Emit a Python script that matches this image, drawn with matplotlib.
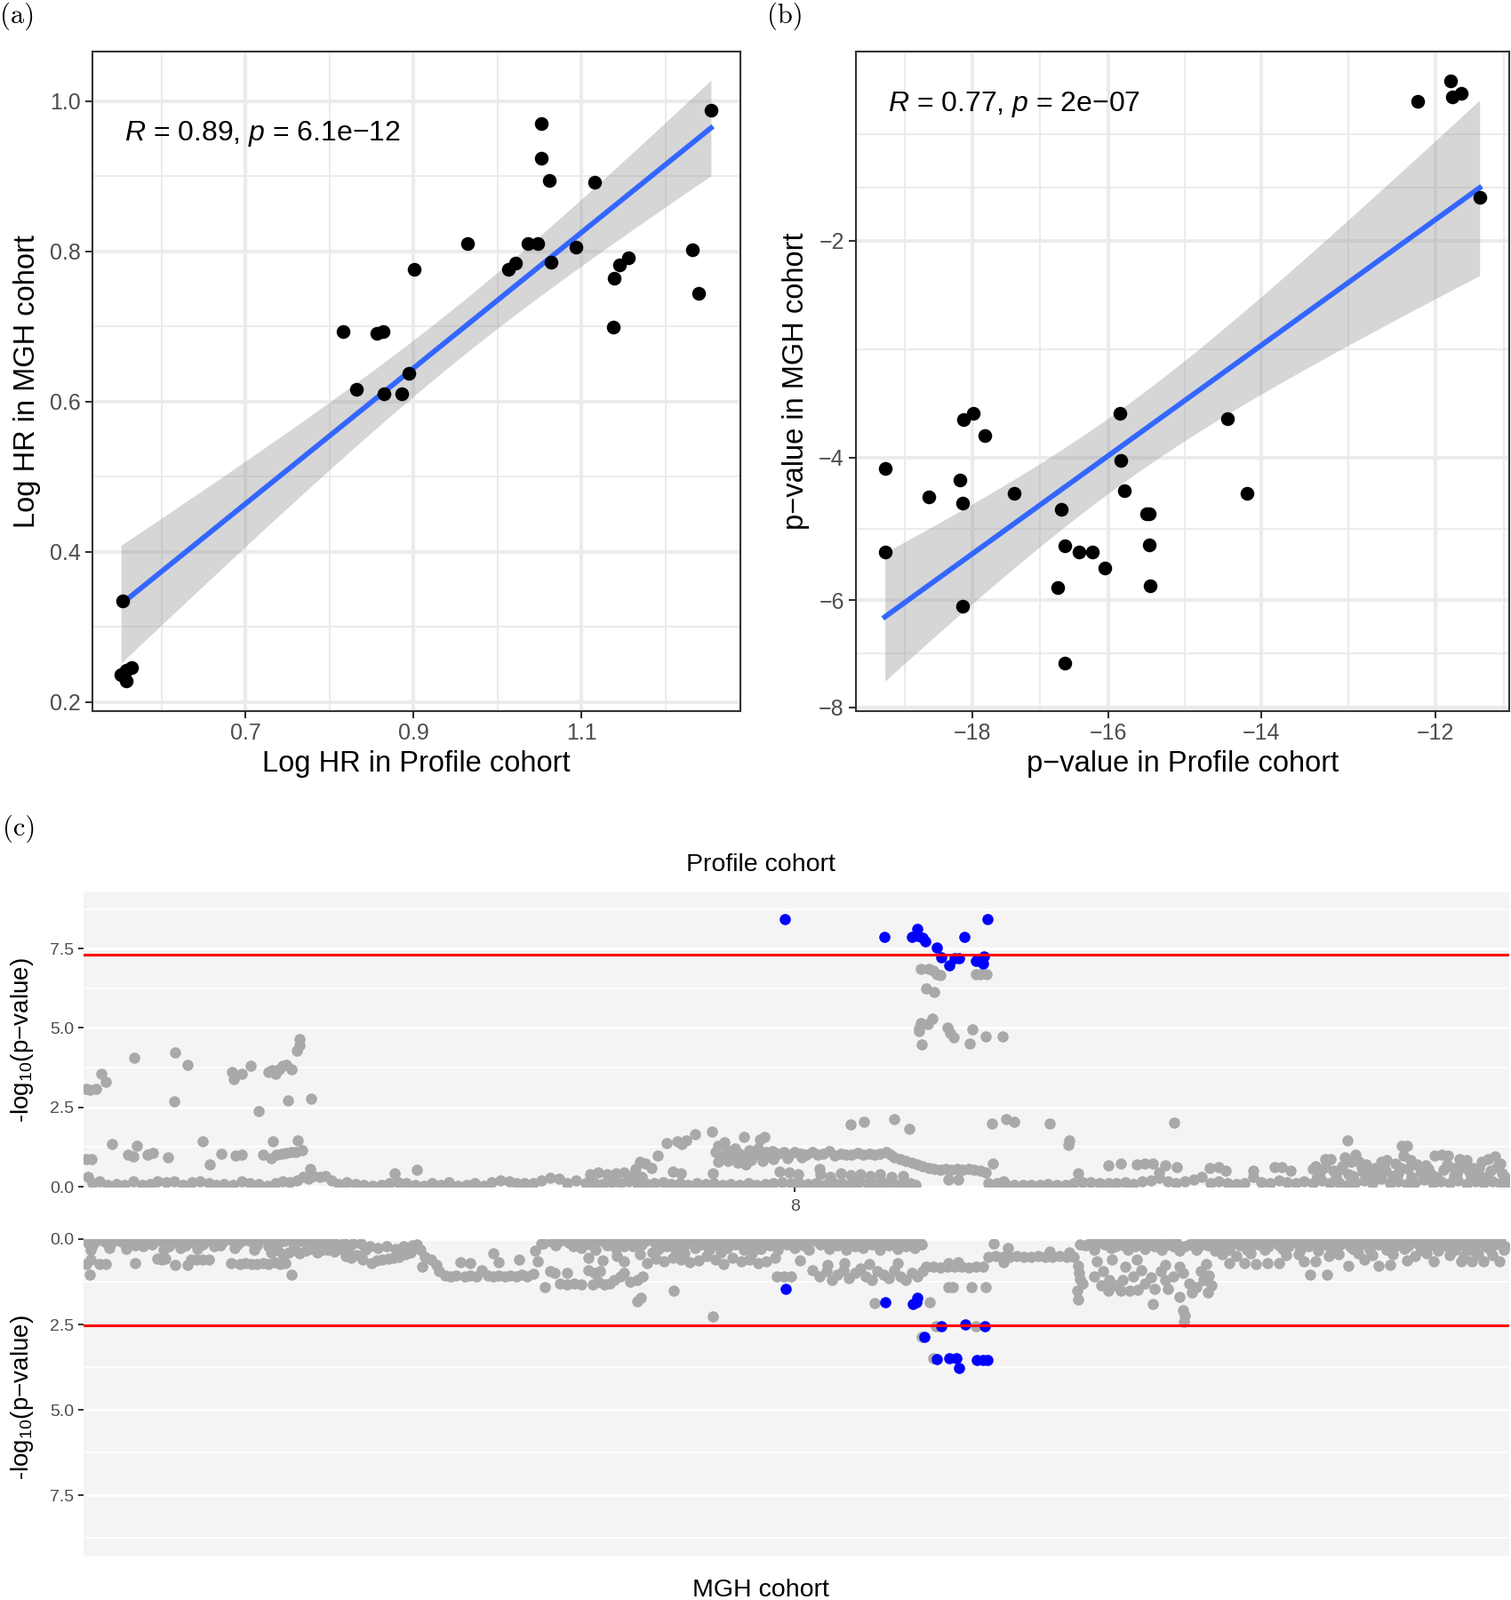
import numpy as np
import matplotlib
matplotlib.use("Agg")
import matplotlib.pyplot as plt

plt.rcParams['font.family'] = ['Liberation Sans', 'DejaVu Sans']
plt.rcParams['mathtext.fontset'] = 'custom'
plt.rcParams['mathtext.rm'] = 'Liberation Sans'
plt.rcParams['mathtext.it'] = 'Liberation Sans:italic'

# ---- (a) log hazard ratios, profile vs MGH
hr_profile = [1.254, 1.052, 1.052, 1.062, 1.116, 0.964, 1.036, 1.048, 1.093, 1.232,
              0.901, 1.013, 1.021, 1.064, 1.156, 1.145, 1.139, 1.239, 1.138, 0.816,
              0.856, 0.864, 0.832, 0.894, 0.865, 0.886, 0.554, 0.552, 0.558, 0.565, 0.558]
hr_mgh = [0.988, 0.970, 0.924, 0.895, 0.892, 0.810, 0.810, 0.810, 0.806, 0.802,
          0.776, 0.776, 0.784, 0.786, 0.792, 0.782, 0.764, 0.744, 0.699, 0.693,
          0.691, 0.693, 0.616, 0.638, 0.610, 0.610, 0.335, 0.237, 0.243, 0.246, 0.228]

# ---- (b) log10 p-values, profile vs MGH
p_profile = [-11.84, -12.19, -11.82, -11.73, -11.54, -19.40, -19.41, -18.69, -18.14, -17.98,
             -17.81, -18.19, -18.15, -18.15, -17.36, -16.67, -16.62, -16.41, -16.22, -16.05,
             -16.72, -16.62, -15.84, -15.83, -15.78, -15.47, -15.44, -15.44, -15.43, -14.42, -14.17]
p_mgh = [-1.06, -1.16, -1.14, -1.12, -1.71, -4.13, -5.25, -4.48, -3.57, -3.51,
         -3.75, -4.27, -4.57, -6.09, -4.44, -4.65, -5.15, -5.24, -5.25, -5.49,
         -5.79, -7.12, -3.51, -4.03, -4.41, -4.71, -4.71, -5.14, -5.77, -3.56, -4.44]

# ---- (c) chr8 -log10(p), position as % of the region shown
top_lead = [(49.28, 8.42), (56.28, 7.87), (58.19, 7.87), (58.60, 8.12), (58.64, 7.89),
            (58.98, 7.84), (59.14, 7.72), (60.00, 7.53), (60.30, 7.22), (60.84, 6.97),
            (61.25, 7.20), (61.54, 7.20), (61.93, 7.87), (62.72, 7.11), (62.99, 7.11),
            (63.29, 7.25), (63.24, 7.02), (63.51, 8.42)]
top_scatter = [(58.87, 6.87), (59.43, 6.87), (59.73, 6.81), (60.00, 6.69), (60.23, 6.67),
               (62.72, 6.69), (63.06, 6.69), (63.47, 6.70), (59.21, 6.25), (59.77, 6.14),
               (58.71, 4.99), (58.87, 5.15), (59.37, 5.13), (59.66, 5.30), (58.75, 4.90),
               (58.93, 4.48), (60.73, 5.01), (60.91, 4.85), (61.18, 4.71), (62.31, 4.50),
               (62.49, 4.97), (63.40, 4.73), (64.60, 4.73),
               (0.20, 3.08), (0.45, 3.06), (0.88, 3.08), (1.25, 3.56), (1.56, 3.31),
               (3.54, 4.05), (6.44, 4.22), (7.34, 3.85), (6.37, 2.70), (10.41, 3.62),
               (10.54, 3.40), (11.15, 3.56), (11.72, 3.81), (12.29, 2.38), (13.01, 3.62),
               (13.24, 3.68), (13.47, 3.56), (13.76, 3.71), (13.99, 3.81), (14.26, 3.84),
               (14.60, 3.71), (14.98, 4.29), (15.21, 4.46), (15.21, 4.66), (14.35, 2.72),
               (15.98, 2.76),
               (0.20, 0.86), (0.54, 0.88), (2.00, 1.35), (3.15, 1.00), (3.49, 0.95),
               (3.76, 1.28), (4.51, 1.00), (4.85, 1.06), (5.92, 0.92), (8.36, 1.44),
               (8.89, 0.70), (9.68, 1.05), (10.70, 0.98), (11.09, 1.02), (12.63, 1.00),
               (13.17, 0.91), (13.31, 1.42), (13.58, 1.00), (13.92, 1.04), (14.26, 1.06),
               (14.60, 1.08), (14.94, 1.10), (15.35, 1.14), (15.08, 1.47), (15.94, 0.56),
               (21.85, 0.43), (23.44, 0.54),
               (53.88, 1.96), (54.85, 2.05), (56.99, 2.13), (58.03, 1.81), (63.85, 1.98),
               (64.87, 2.14), (65.40, 2.05), (67.93, 1.98), (69.30, 1.47), (69.23, 1.32),
               (63.92, 0.72), (69.91, 0.42), (46.56, 0.70), (51.73, 0.56), (60.80, 0.23),
               (61.50, 0.23), (76.64, 2.03), (88.82, 1.45), (92.64, 1.29), (93.01, 1.29)]
top_bands = [(38.80, 0.55), (39.08, 0.79), (39.48, 0.74), (39.94, 0.60), (40.35, 0.99),
             (40.96, 1.37), (41.75, 1.42), (42.06, 1.35), (42.36, 1.47), (43.00, 1.66),
             (44.18, 1.74), (44.58, 1.28), (45.04, 1.40), (46.40, 1.56), (47.53, 1.49),
             (47.87, 1.56),
             (44.4, 1.10), (44.8, 0.92), (45.2, 1.15), (45.5, 0.95), (45.8, 1.20),
             (46.1, 1.05), (46.5, 0.90), (46.8, 1.15), (47.1, 1.00), (47.4, 1.20),
             (47.7, 0.95), (48.0, 1.08), (48.4, 1.12), (48.8, 1.05), (49.2, 1.10),
             (49.6, 1.00), (50.0, 1.08), (50.4, 1.05), (50.8, 1.02), (51.2, 1.10),
             (51.6, 1.00), (52.0, 1.05), (52.4, 1.12), (52.8, 0.98), (53.2, 1.04),
             (53.6, 1.00), (54.0, 1.02), (54.4, 1.06), (54.8, 1.00), (55.2, 1.03),
             (55.6, 1.02), (56.0, 1.04), (56.4, 1.10), (56.7, 1.00), (57.0, 0.92),
             (57.4, 0.86), (57.8, 0.80), (58.2, 0.75), (58.6, 0.70), (59.0, 0.64),
             (59.4, 0.60), (59.8, 0.57), (60.2, 0.54), (60.6, 0.55), (61.0, 0.53),
             (61.4, 0.55), (61.8, 0.52), (62.2, 0.55), (62.6, 0.53), (63.0, 0.50),
             (63.4, 0.46), (44.6, 0.78), (45.3, 0.82), (46.0, 0.75), (46.9, 0.85),
             (47.7, 0.80), (48.5, 0.88), (49.5, 0.90), (50.5, 0.92),
             (86.61, 0.65), (87.24, 0.88), (87.65, 0.88), (88.48, 0.65), (88.65, 0.93),
             (89.11, 0.79), (89.42, 1.02), (89.63, 0.79), (90.15, 0.70), (90.77, 0.60),
             (91.19, 0.79), (91.60, 0.84), (92.22, 0.74), (92.74, 0.98), (93.26, 0.84),
             (93.68, 0.70), (94.30, 0.67), (94.93, 0.98), (95.45, 1.00), (95.86, 0.98),
             (96.28, 0.60), (96.69, 0.88), (97.21, 0.84), (97.63, 0.60), (98.25, 0.79),
             (98.67, 0.88), (99.19, 0.95), (99.60, 0.74),
             (86.9, 0.45), (87.8, 0.50), (88.9, 0.40), (89.9, 0.48), (90.6, 0.35),
             (91.5, 0.50), (92.4, 0.42), (93.1, 0.55), (94.0, 0.45), (94.7, 0.38),
             (95.6, 0.52), (96.5, 0.42), (97.4, 0.48), (98.0, 0.36), (98.9, 0.50),
             (99.7, 0.42), (72.03, 0.67), (72.90, 0.74), (74.04, 0.70), (74.56, 0.74),
             (75.18, 0.72), (76.00, 0.68), (76.85, 0.63), (75.60, 0.46), (79.13, 0.60),
             (79.76, 0.63), (80.28, 0.51), (82.21, 0.51), (83.70, 0.62), (84.22, 0.62),
             (84.85, 0.51), (86.40, 0.57),
             (86.7, 0.30), (87.3, 0.62), (88.0, 0.30), (88.4, 0.55), (89.2, 0.35),
             (89.8, 0.62), (90.4, 0.45), (91.0, 0.30), (91.4, 0.62), (92.0, 0.35),
             (92.6, 0.60), (93.3, 0.30), (93.9, 0.62), (94.5, 0.55), (95.1, 0.30),
             (95.8, 0.70), (96.3, 0.35), (96.9, 0.62), (97.5, 0.30), (98.1, 0.60),
             (98.6, 0.30), (99.3, 0.62), (99.9, 0.30)]
top_base = [(0.3, 0.30), (0.6, 0.12), (1.1, 0.18), (1.7, 0.06), (2.3, 0.08), (2.9, 0.05),
            (3.5, 0.16), (4.1, 0.07), (4.7, 0.08), (5.2, 0.18), (5.8, 0.14), (6.4, 0.17),
            (7.0, 0.06), (7.6, 0.14), (8.2, 0.16), (8.8, 0.12), (9.3, 0.06), (9.9, 0.08),
            (10.5, 0.06), (11.1, 0.18), (11.7, 0.12), (12.3, 0.08), (12.9, 0.04),
            (13.5, 0.12), (14.0, 0.16), (14.5, 0.14), (15.0, 0.20), (15.4, 0.30),
            (15.8, 0.24), (16.2, 0.34), (16.6, 0.32), (17.0, 0.33), (17.4, 0.20), (17.9, 0.08),
            (18.5, 0.15), (19.1, 0.08), (19.7, 0.05), (20.3, 0.04), (20.9, 0.06), (21.5, 0.10),
            (22.1, 0.15), (22.7, 0.10), (23.3, 0.06), (23.9, 0.04), (24.5, 0.10), (25.1, 0.05),
            (25.7, 0.14), (26.3, 0.04), (26.9, 0.05), (27.5, 0.12), (28.1, 0.04), (28.7, 0.15),
            (29.3, 0.20), (29.9, 0.16), (30.4, 0.10), (31.0, 0.12), (31.6, 0.12), (32.2, 0.20),
            (32.8, 0.28), (33.4, 0.24), (34.0, 0.12), (34.6, 0.20),
            (35.3, 0.10), (35.9, 0.12), (36.5, 0.08), (37.1, 0.14), (37.7, 0.10), (38.3, 0.16),
            (38.9, 0.08), (39.5, 0.12), (40.1, 0.10), (40.7, 0.14), (41.3, 0.08), (41.9, 0.12),
            (42.5, 0.06), (43.1, 0.10), (43.7, 0.08), (44.3, 0.12), (44.9, 0.06), (45.5, 0.08),
            (46.1, 0.05), (46.7, 0.10), (47.3, 0.06), (47.9, 0.08), (48.5, 0.12), (49.1, 0.14),
            (49.7, 0.10), (50.3, 0.12), (50.9, 0.08), (51.5, 0.10), (52.1, 0.06), (52.7, 0.12),
            (53.3, 0.10), (53.9, 0.08), (54.5, 0.14), (55.1, 0.10), (55.7, 0.08), (56.3, 0.12),
            (56.9, 0.10), (57.5, 0.08), (58.1, 0.12), (58.5, 0.06),
            (35.6, 0.40), (36.2, 0.45), (36.8, 0.38), (37.4, 0.42), (38.0, 0.45), (38.6, 0.36),
            (39.2, 0.30), (41.4, 0.47), (42.0, 0.42), (44.2, 0.42), (48.9, 0.47), (49.6, 0.44),
            (50.2, 0.40), (51.8, 0.38), (52.5, 0.32), (53.2, 0.42), (53.9, 0.36), (54.6, 0.40),
            (55.3, 0.34), (56.0, 0.40), (56.8, 0.30), (57.6, 0.35),
            (63.6, 0.10), (64.2, 0.12), (64.65, 0.18), (64.8, 0.08), (65.4, 0.06), (66.0, 0.05),
            (66.6, 0.06), (67.2, 0.05), (67.8, 0.08), (68.4, 0.06), (69.0, 0.06), (69.6, 0.10),
            (70.2, 0.14),
            (70.8, 0.14), (71.4, 0.10), (72.0, 0.12), (72.6, 0.10), (73.2, 0.14), (73.8, 0.08),
            (74.4, 0.16), (75.0, 0.20), (75.6, 0.28), (76.2, 0.18), (76.8, 0.10), (77.4, 0.16),
            (78.0, 0.22), (78.6, 0.30), (79.2, 0.12), (79.8, 0.16), (80.4, 0.10), (81.0, 0.08),
            (81.6, 0.12), (82.2, 0.30), (82.8, 0.14), (83.4, 0.10), (84.0, 0.20), (84.6, 0.14),
            (85.2, 0.10), (85.8, 0.18),
            (86.4, 0.12), (87.0, 0.20), (87.6, 0.10), (88.2, 0.15), (88.8, 0.06), (89.4, 0.14),
            (90.0, 0.20), (90.6, 0.10), (91.2, 0.25), (91.8, 0.12), (92.4, 0.18), (93.0, 0.08),
            (93.6, 0.14), (94.2, 0.22), (94.8, 0.10), (95.4, 0.16), (96.0, 0.12), (96.6, 0.20),
            (97.2, 0.08), (97.8, 0.16), (98.4, 0.12), (99.0, 0.18), (99.6, 0.10), (100.0, 0.14)]

bot_lead = [(49.35, 1.47), (56.33, 1.86), (58.26, 1.91), (58.60, 1.72), (58.53, 1.86),
            (60.30, 2.56), (61.97, 2.49), (63.36, 2.56), (59.09, 2.86), (60.00, 3.51),
            (60.86, 3.48), (61.36, 3.48), (61.54, 3.77), (62.79, 3.53), (63.22, 3.53),
            (63.56, 3.55)]
bot_scatter = [(55.58, 1.88), (59.50, 1.85), (59.90, 2.56), (62.72, 2.56), (58.93, 2.86),
               (59.73, 3.49), (60.80, 1.41), (61.10, 1.41), (62.40, 1.41), (63.40, 1.41),
               (38.92, 1.82), (39.14, 1.72), (41.46, 1.52), (44.25, 2.27), (48.70, 1.10),
               (49.20, 1.10), (49.70, 1.10), (50.37, 0.62), (32.40, 1.40), (23.78, 0.82),
               (14.60, 1.04), (0.43, 1.04), (75.14, 1.91), (77.00, 1.69), (77.26, 2.08),
               (77.43, 2.25), (77.33, 2.43), (86.20, 1.04), (87.40, 1.04), (69.90, 1.78),
               (69.85, 1.52)]
bot_bands = [(0.2, 0.74), (0.5, 0.60), (1.1, 0.74), (1.56, 0.74), (3.6, 0.71), (5.19, 0.58),
             (5.5, 0.60), (5.76, 0.58), (6.44, 0.76), (7.34, 0.75), (7.57, 0.61), (7.91, 0.61),
             (8.37, 0.61), (8.82, 0.61), (10.4, 0.71), (11.0, 0.72), (11.4, 0.70), (11.8, 0.74),
             (12.2, 0.72), (12.6, 0.70), (13.0, 0.74), (13.4, 0.68), (13.8, 0.72), (14.2, 0.70),
             (13.2, 0.40), (13.6, 0.30), (14.0, 0.45), (14.4, 0.38), (14.8, 0.30), (15.2, 0.42),
             (15.6, 0.35), (16.0, 0.28), (16.4, 0.40), (16.8, 0.32), (17.2, 0.30), (17.6, 0.36),
             (18.0, 0.28), (18.4, 0.50), (18.8, 0.55), (19.2, 0.48), (19.6, 0.60), (20.27, 0.70),
             (20.6, 0.62), (21.0, 0.60), (21.4, 0.58), (21.8, 0.55), (22.2, 0.52), (22.6, 0.45),
             (23.0, 0.40), (23.44, 0.16), (23.0, 0.25), (24.0, 0.52), (24.4, 0.60), (24.8, 0.75),
             (25.0, 0.95), (25.4, 1.08), (25.8, 1.10), (26.2, 1.08), (26.5, 0.69), (26.8, 1.10),
             (27.2, 0.71), (27.2, 1.08), (27.6, 1.10), (28.0, 0.90), (28.4, 1.08), (28.77, 0.42),
             (28.8, 1.10), (29.2, 0.69), (29.2, 1.08), (29.6, 1.10), (30.0, 1.08), (30.58, 0.59),
             (30.4, 1.10), (30.8, 1.05), (31.2, 1.10), (31.6, 1.02), (31.9, 0.65), (31.72, 0.35),
             (32.17, 0.13), (32.8, 0.95), (33.1, 1.00), (33.5, 1.30), (34.0, 1.00), (34.0, 1.34),
             (34.5, 1.30), (35.0, 1.34),
             (35.5, 0.90), (35.9, 1.00), (36.3, 0.95), (36.6, 1.34), (37.0, 1.30), (37.3, 1.20),
             (37.7, 1.10), (38.0, 1.00), (38.4, 1.25), (38.9, 1.20), (39.3, 1.10), (35.8, 1.34),
             (36.2, 1.25), (35.5, 0.55), (36.5, 0.62), (37.5, 0.50), (38.0, 0.65), (39.1, 0.45),
             (39.6, 0.70), (40.2, 0.58), (40.8, 0.65), (41.4, 0.55), (42.0, 0.60), (42.6, 0.68),
             (43.2, 0.62), (43.8, 0.50), (44.4, 0.60), (45.0, 0.72), (45.6, 0.55), (46.2, 0.66),
             (46.8, 0.60), (47.4, 0.70), (48.0, 0.65), (48.6, 0.55), (40.0, 0.40), (42.2, 0.42),
             (44.8, 0.38), (47.0, 0.42),
             (51.2, 0.90), (51.7, 1.10), (52.2, 0.95), (52.6, 1.20), (53.0, 1.05), (53.4, 0.90),
             (53.8, 1.15), (54.2, 1.00), (54.6, 0.85), (55.0, 1.10), (55.4, 1.20), (55.8, 0.95),
             (56.2, 1.05), (56.6, 1.15), (57.0, 0.90), (57.4, 1.10), (57.8, 1.20), (58.2, 1.00),
             (58.6, 1.10), (59.0, 0.95), (52.3, 0.75), (53.5, 0.70), (55.2, 0.72), (57.2, 0.70),
             (59.2, 0.82), (59.7, 0.80), (60.2, 0.84), (60.7, 0.82), (61.2, 0.80), (61.7, 0.82),
             (62.2, 0.84), (62.7, 0.82), (63.2, 0.80), (60.8, 0.70), (61.5, 0.68),
             (63.6, 0.52), (64.1, 0.50), (64.6, 0.52), (65.1, 0.52), (65.6, 0.50), (66.1, 0.52),
             (66.6, 0.52), (67.1, 0.50), (67.6, 0.52), (68.1, 0.52), (68.6, 0.50), (69.1, 0.52),
             (69.6, 0.52), (64.65, 0.69), (63.97, 0.13), (64.99, 0.26), (67.9, 0.37), (69.3, 0.39),
             (69.9, 0.78), (70.0, 1.17), (69.95, 1.00), (70.2, 1.30),
             (71.2, 0.65), (71.65, 0.95), (72.07, 1.21), (72.5, 1.35), (72.9, 1.50), (73.5, 1.52),
             (74.1, 1.48), (74.35, 0.91), (75.0, 1.13), (75.7, 0.95), (76.0, 1.21), (76.2, 1.47),
             (77.9, 1.56), (77.7, 1.30), (78.7, 1.21), (79.1, 1.08), (79.0, 1.56), (78.92, 0.74),
             (77.05, 0.82), (71.0, 1.10), (71.5, 1.35), (72.0, 1.50), (73.0, 1.20), (73.8, 1.10),
             (74.6, 1.30), (75.3, 1.45), (76.6, 1.10), (77.3, 1.00), (78.2, 1.40), (78.5, 0.95),
             (79.3, 1.35), (73.2, 0.80), (74.0, 0.60), (76.0, 0.75), (72.3, 0.60),
             (80.5, 0.70), (81.6, 0.70), (82.4, 0.72), (83.2, 0.70), (84.0, 0.70), (85.8, 0.65),
             (86.6, 0.65), (88.9, 0.78), (91.0, 0.78), (91.8, 0.76), (94.9, 0.65), (96.8, 0.65),
             (97.6, 0.65), (98.4, 0.65), (99.5, 0.65), (90.0, 0.60), (93.0, 0.62),
             (80.0, 0.45), (81.0, 0.50), (82.0, 0.42), (84.5, 0.48), (85.4, 0.44), (87.5, 0.50),
             (88.2, 0.45), (89.6, 0.42), (90.6, 0.48), (92.0, 0.45), (93.6, 0.50), (94.4, 0.42),
             (96.0, 0.46), (97.0, 0.50), (98.0, 0.44), (99.0, 0.48)]
bot_base = [(0.3, 0.10), (0.9, 0.06), (1.5, 0.08), (2.1, 0.05), (2.7, 0.08), (3.3, 0.06),
            (3.9, 0.05), (4.5, 0.10), (5.1, 0.06), (5.7, 0.05), (6.3, 0.08), (6.9, 0.06),
            (7.5, 0.08), (8.1, 0.05), (8.7, 0.06), (9.3, 0.04), (9.9, 0.05), (10.5, 0.06),
            (11.1, 0.05), (11.7, 0.06), (12.3, 0.04), (12.9, 0.06), (13.5, 0.05), (14.1, 0.06),
            (14.7, 0.08), (15.3, 0.06), (15.9, 0.05), (16.5, 0.10), (17.1, 0.08), (17.7, 0.12),
            (18.3, 0.10), (18.9, 0.14), (19.5, 0.12), (20.1, 0.22), (20.7, 0.26), (21.3, 0.22),
            (21.9, 0.28), (22.5, 0.20), (23.1, 0.18), (23.7, 0.30),
            (32.3, 0.12), (32.9, 0.08), (33.5, 0.05), (34.1, 0.10), (34.7, 0.06), (35.3, 0.08),
            (35.9, 0.05), (36.5, 0.06), (37.1, 0.08), (37.7, 0.05), (38.3, 0.10), (38.9, 0.06),
            (39.5, 0.05), (40.1, 0.08), (40.7, 0.06), (41.3, 0.05), (41.9, 0.08), (42.5, 0.06),
            (43.1, 0.05), (43.7, 0.06), (44.3, 0.04), (44.9, 0.05), (45.5, 0.06), (46.1, 0.04),
            (46.7, 0.05), (47.3, 0.06), (47.9, 0.04), (48.5, 0.06), (49.1, 0.05), (49.7, 0.04),
            (50.3, 0.06), (50.9, 0.04), (51.5, 0.05), (52.1, 0.06), (52.7, 0.04), (53.3, 0.05),
            (53.9, 0.04), (54.5, 0.06), (55.1, 0.05), (55.7, 0.04), (56.3, 0.06), (56.9, 0.05),
            (57.5, 0.08), (58.1, 0.05), (58.7, 0.06),
            (70.0, 0.15), (70.8, 0.10), (71.4, 0.06), (72.0, 0.12), (72.6, 0.05), (73.2, 0.08),
            (73.8, 0.05), (74.4, 0.10), (75.0, 0.06), (75.6, 0.05), (76.2, 0.12), (76.8, 0.08),
            (77.4, 0.20), (78.0, 0.10), (78.6, 0.05), (79.2, 0.08), (79.8, 0.05), (80.4, 0.06),
            (81.0, 0.05), (81.6, 0.04), (82.2, 0.06), (82.8, 0.05), (83.4, 0.04), (84.0, 0.06),
            (84.6, 0.05), (85.2, 0.06), (85.8, 0.04), (86.4, 0.08), (87.0, 0.05), (87.6, 0.06),
            (88.2, 0.05), (88.8, 0.08), (89.4, 0.06), (90.0, 0.05), (90.6, 0.06), (91.2, 0.04),
            (91.8, 0.06), (92.4, 0.05), (93.0, 0.04), (93.6, 0.06), (94.2, 0.05), (94.8, 0.06),
            (95.4, 0.04), (96.0, 0.06), (96.6, 0.05), (97.2, 0.06), (97.8, 0.04), (98.4, 0.06),
            (99.0, 0.05), (99.6, 0.06),
            (0.5, 0.30), (1.8, 0.25), (3.0, 0.28), (4.2, 0.22), (5.6, 0.30), (6.8, 0.25),
            (8.0, 0.28), (9.2, 0.22), (10.6, 0.25), (12.0, 0.30), (13.0, 0.22), (35.0, 0.25),
            (36.0, 0.30), (37.4, 0.28), (38.6, 0.22), (40.4, 0.28), (41.6, 0.32), (43.0, 0.25),
            (44.0, 0.30), (45.2, 0.26), (46.4, 0.32), (47.6, 0.28), (48.8, 0.30), (50.0, 0.25),
            (51.0, 0.32), (52.4, 0.28), (53.6, 0.30), (54.8, 0.25), (56.0, 0.30), (57.2, 0.28),
            (58.4, 0.26), (71.0, 0.30), (72.2, 0.25), (73.4, 0.32), (74.6, 0.28), (75.8, 0.30),
            (77.0, 0.35), (78.2, 0.30), (79.5, 0.35), (80.5, 0.30), (81.8, 0.32), (83.0, 0.30),
            (84.3, 0.28), (85.5, 0.30), (86.8, 0.35), (88.0, 0.30), (89.2, 0.28), (90.4, 0.32),
            (91.6, 0.30), (92.8, 0.28), (94.0, 0.30), (95.2, 0.35), (96.4, 0.30), (97.6, 0.32),
            (98.8, 0.28), (99.8, 0.30),
            (0.6, 0.18), (1.9, 0.16), (3.6, 0.18), (4.8, 0.16), (6.0, 0.20), (7.2, 0.18),
            (8.4, 0.16), (9.6, 0.18), (10.8, 0.16), (12.2, 0.18), (13.6, 0.16), (14.8, 0.20),
            (16.0, 0.18), (17.4, 0.22), (18.6, 0.25), (19.8, 0.30),
            (33.2, 0.18), (34.4, 0.20), (35.6, 0.16), (36.8, 0.18), (38.0, 0.20), (39.2, 0.16),
            (40.4, 0.15), (41.0, 0.20), (42.2, 0.18), (43.4, 0.16), (44.6, 0.18), (45.8, 0.16),
            (47.0, 0.20), (48.2, 0.18), (49.4, 0.16), (50.6, 0.18), (51.8, 0.16), (53.0, 0.18),
            (54.2, 0.20), (55.4, 0.16), (56.6, 0.18), (57.8, 0.20), (58.9, 0.15),
            (70.4, 0.18), (71.1, 0.20), (71.8, 0.16), (72.5, 0.22), (73.1, 0.18), (73.9, 0.20),
            (74.5, 0.15), (75.3, 0.22), (76.0, 0.18), (76.6, 0.20), (77.7, 0.15), (78.4, 0.22),
            (79.0, 0.18), (79.9, 0.20), (80.6, 0.15), (81.3, 0.18), (82.0, 0.22), (82.6, 0.16),
            (83.3, 0.20), (84.0, 0.18), (84.7, 0.22), (85.4, 0.15), (86.1, 0.20), (86.9, 0.18),
            (87.5, 0.22), (88.3, 0.16), (89.0, 0.20), (89.7, 0.18), (90.3, 0.22), (91.0, 0.16),
            (91.7, 0.20), (92.3, 0.18), (93.1, 0.22), (93.8, 0.15), (94.5, 0.20), (95.1, 0.18),
            (95.8, 0.22), (96.5, 0.16), (97.1, 0.20), (97.8, 0.18), (98.5, 0.22), (99.2, 0.16),
            (99.9, 0.20)]

top_threshold = 7.3
bot_threshold = 2.53

W, H = 1700, 1800


def rect(left, top, right, bottom):
    return [left / W, 1 - bottom / H, (right - left) / W, (bottom - top) / H]


def fwd(v):
    v = np.asarray(v, dtype=float)
    with np.errstate(divide='ignore', invalid='ignore'):
        return -np.log(1.0 - v)


def inv(t):
    return 1.0 - np.exp(-np.asarray(t, dtype=float))


def lm_band(x, y, grid, t_crit=2.045):
    slope, icpt = np.polyfit(x, y, 1)
    n = len(x)
    resid = y - (icpt + slope * x)
    s = np.sqrt(np.sum(resid ** 2) / (n - 2))
    se = s * np.sqrt(1 / n + (grid - x.mean()) ** 2 / np.sum((x - x.mean()) ** 2))
    fit = icpt + slope * grid
    return fit, fit - t_crit * se, fit + t_crit * se


def minor_breaks(major, lo, hi):
    t = np.sort(fwd(major))
    bd = t[1] - t[0]
    ext = np.r_[t[0] - bd, t, t[-1] + bd]
    mids = (ext[:-1] + ext[1:]) / 2
    cand = inv(np.r_[mids, ext[0], ext[-1]])
    a, b = min(lo, hi), max(lo, hi)
    return sorted(v for v in cand if a < v < b)


def style_bw(ax):
    ax.set_axisbelow(True)
    ax.grid(which='major', color='#EBEBEB', linewidth=2.8)
    ax.grid(which='minor', color='#EBEBEB', linewidth=1.4)
    for sp in ax.spines.values():
        sp.set_color('#333333')
        sp.set_linewidth(1.5)
    ax.tick_params(which='major', length=5.5, width=1.5, color='#333333',
                   labelsize=18, labelcolor='#4D4D4D', pad=4)
    ax.tick_params(which='minor', length=0)


fig = plt.figure(figsize=(17, 18), dpi=100)

# ---------------- (a)
ax_a = fig.add_axes(rect(104, 58, 833, 800))
xa, ya = np.array(hr_profile), np.array(hr_mgh)
grid_a = np.linspace(xa.min(), xa.max(), 100)
fit_a, lo_a, hi_a = lm_band(xa, ya, grid_a)
ax_a.fill_between(grid_a, lo_a, hi_a, color='#999999', alpha=0.4, linewidth=0, zorder=2)
ax_a.plot(grid_a, fit_a, color='#3366FF', linewidth=4.2, zorder=3)
ax_a.scatter(xa, ya, s=125, color='black', linewidths=0, zorder=4)
ax_a.set_xlim(0.518, 1.289)
ax_a.set_ylim(0.188, 1.066)
ax_a.set_xticks([0.7, 0.9, 1.1])
ax_a.set_xticklabels(['0.7', '0.9', '1.1'])
ax_a.set_xticks([0.6, 0.8, 1.0, 1.2], minor=True)
ax_a.set_yticks([0.2, 0.4, 0.6, 0.8, 1.0])
ax_a.set_yticklabels(['0.2', '0.4', '0.6', '0.8', '1.0'])
ax_a.set_yticks([0.3, 0.5, 0.7, 0.9], minor=True)
style_bw(ax_a)
ax_a.set_xlabel('Log HR in Profile cohort', fontsize=23.5, labelpad=5)
ax_a.set_ylabel('Log HR in MGH cohort', fontsize=23.5, labelpad=7)
ax_a.text(0.049, 0.875, r'$R$ = 0.89, $p$ = 6.1e−12', transform=ax_a.transAxes,
          fontsize=23, ha='left', va='center')

# ---------------- (b)
ax_b = fig.add_axes(rect(963, 58, 1698, 800))
ax_b.set_xscale('function', functions=(fwd, inv))
ax_b.set_yscale('function', functions=(fwd, inv))
xb, yb = np.array(p_profile), np.array(p_mgh)
tx, ty = fwd(xb), fwd(yb)
grid_t = np.linspace(tx.min(), tx.max(), 100)
fit_b, lo_b, hi_b = lm_band(tx, ty, grid_t)
ax_b.fill_between(inv(grid_t), inv(lo_b), inv(hi_b), color='#999999', alpha=0.4,
                  linewidth=0, zorder=2)
ax_b.plot(inv(grid_t), inv(fit_b), color='#3366FF', linewidth=4.2, zorder=3)
ax_b.scatter(xb, yb, s=125, color='black', linewidths=0, zorder=4)
xlim_b, ylim_b = (-19.90, -11.24), (-8.085, -0.922)
ax_b.set_xlim(*xlim_b)
ax_b.set_ylim(*ylim_b)
xmaj, ymaj = [-18, -16, -14, -12], [-8, -6, -4, -2]
ax_b.set_xticks(xmaj)
ax_b.set_xticklabels(['−18', '−16', '−14', '−12'])
ax_b.set_xticks(minor_breaks(xmaj, *xlim_b), minor=True)
ax_b.set_yticks(ymaj)
ax_b.set_yticklabels(['−8', '−6', '−4', '−2'])
ax_b.set_yticks(minor_breaks(ymaj, *ylim_b), minor=True)
ax_b.xaxis.set_minor_formatter(plt.NullFormatter())
ax_b.yaxis.set_minor_formatter(plt.NullFormatter())
style_bw(ax_b)
ax_b.set_xlabel('p−value in Profile cohort', fontsize=23.5, labelpad=5)
ax_b.set_ylabel('p−value in MGH cohort', fontsize=23.5, labelpad=7)
ax_b.text(0.049, 0.920, r'$R$ = 0.77, $p$ = 2e−07', transform=ax_b.transAxes,
          fontsize=23, ha='left', va='center')

# ---------------- (c)
ax_top = fig.add_axes(rect(94, 1004, 1698, 1335))
ax_bot = fig.add_axes(rect(94, 1394, 1698, 1750))
panels = [
    (ax_top, top_base + top_bands + top_scatter, top_lead, top_threshold, (0, 9.27)),
    (ax_bot, bot_base + bot_bands + bot_scatter, bot_lead, bot_threshold, (9.27, 0)),
]
for ax, gray_pts, lead_pts, thr, ylim in panels:
    g = np.array(gray_pts)
    b = np.array(lead_pts)
    ax.set_facecolor('#F4F4F4')
    ax.scatter(g[:, 0], g[:, 1], s=82, color='#A9A9A9', linewidths=0, zorder=2)
    ax.scatter(b[:, 0], b[:, 1], s=82, color='#0000FF', linewidths=0, zorder=3)
    ax.axhline(thr, color='#FF0000', linewidth=2.2, zorder=4)
    ax.set_xlim(0, 100.2)
    ax.set_ylim(*ylim)
    ax.set_yticks([0, 2.5, 5.0, 7.5])
    ax.set_yticklabels(['0.0', '2.5', '5.0', '7.5'])
    ax.set_yticks([1.25, 3.75, 6.25, 8.75], minor=True)
    ax.set_axisbelow(True)
    ax.grid(axis='y', which='major', color='white', linewidth=2.0)
    ax.grid(axis='y', which='minor', color='white', linewidth=1.2)
    for sp in ax.spines.values():
        sp.set_visible(False)
    ax.tick_params(which='major', length=4, width=1.4, color='#333333',
                   labelsize=14, labelcolor='#4D4D4D', pad=4)
    ax.tick_params(which='minor', length=0)

ax_top.set_xticks([50])
ax_top.set_xticklabels(['8'])
ax_top.tick_params(axis='x', pad=6)
ax_bot.set_xticks([])

fig.text(856 / W, 1 - 973 / H, 'Profile cohort', fontsize=20.5, ha='center', va='center')
fig.text(856 / W, 1 - 1789 / H, 'MGH cohort', fontsize=20.5, ha='center', va='center')
fig.text(25 / W, 1 - 1170 / H, '-log$_{10}$(p−value)', fontsize=20, rotation=90,
         ha='center', va='center')
fig.text(25 / W, 1 - 1572 / H, '-log$_{10}$(p−value)', fontsize=20, rotation=90,
         ha='center', va='center')

# panel letters
fig.text(0 / W, 1 - 18 / H, '(a)', family='cmr10', fontsize=22, ha='left', va='center')
fig.text(863 / W, 1 - 18 / H, '(b)', family='cmr10', fontsize=22, ha='left', va='center')
fig.text(3 / W, 1 - 932 / H, '(c)', family='cmr10', fontsize=22, ha='left', va='center')

plt.savefig('out.png', dpi=100)
